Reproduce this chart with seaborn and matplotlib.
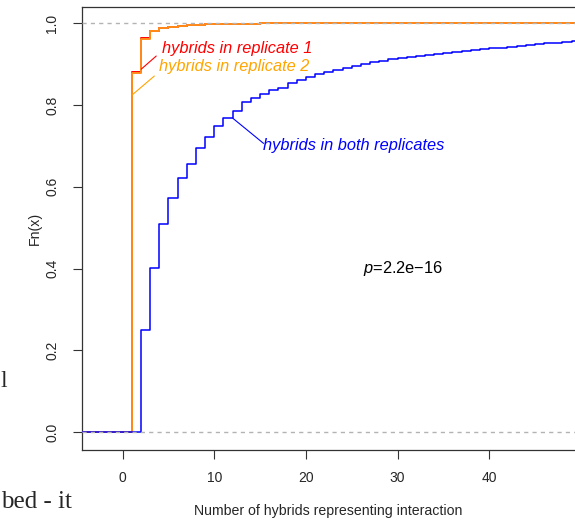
"""ECDF of hybrid counts per interaction, replicates vs both."""

import numpy as np
import pandas as pd
import matplotlib
matplotlib.use("Agg")
import matplotlib.pyplot as plt
import seaborn as sns

# ECDF step positions and heights
rep_x = [1, 2, 3, 4, 5, 6, 7, 8, 9, 10, 12, 15]
rep1_f = [0.882, 0.963, 0.981, 0.988, 0.992, 0.994, 0.996, 0.997, 0.998, 0.999, 0.9995, 1.0]
rep2_f = [0.878, 0.962, 0.980, 0.988, 0.992, 0.994, 0.996, 0.997, 0.998, 0.999, 0.9995, 1.0]

both_x = list(range(2, 50))
both_f = [0.250, 0.401, 0.509, 0.574, 0.622, 0.655, 0.694, 0.723, 0.749, 0.769,
          0.786, 0.808, 0.818, 0.827, 0.837, 0.843, 0.853, 0.861, 0.869, 0.875,
          0.880, 0.886, 0.890, 0.895, 0.900, 0.905, 0.908, 0.912, 0.915, 0.917,
          0.919, 0.922, 0.924, 0.927, 0.929, 0.932, 0.935, 0.937, 0.939, 0.940,
          0.941, 0.944, 0.946, 0.949, 0.951, 0.953, 0.954, 0.957]

x_ticks = [0, 10, 20, 30, 40]
y_ticks = [0.0, 0.2, 0.4, 0.6, 0.8, 1.0]

RED = "#FF0000"
ORANGE_LINE = "#FF8C1A"
ORANGE_TEXT = "#FFA500"
BLUE = "#0000FF"

sns.set_style("ticks")
plt.rcParams["font.family"] = ["Liberation Sans", "DejaVu Sans"]
plt.rcParams["mathtext.fontset"] = "custom"
plt.rcParams["mathtext.it"] = "Liberation Sans:italic"
plt.rcParams["mathtext.rm"] = "Liberation Sans"

XMIN, XMAX = -4.43, 49.37


def step_frame(xs, fs):
    # extend the ECDF to both edges of the plotting region, like R's plot.ecdf
    x = [XMIN - 5] + list(xs) + [XMAX + 5]
    f = [0.0] + list(fs) + [fs[-1]]
    return pd.DataFrame({"x": x, "F": f})


def leader(ax, p0, p1, color):
    ax.plot([p0[0], p1[0]], [p0[1], p1[1]], color=color, lw=0.8, zorder=6)


fig = plt.figure(figsize=(5.75, 5.21), dpi=100)
ax = fig.add_axes([82 / 575, 1 - 449.5 / 521, 1 - 82 / 575, (449.5 - 7) / 521])

sns.lineplot(data=step_frame(rep_x, rep1_f), x="x", y="F", drawstyle="steps-post",
             color=RED, lw=1.4, ax=ax, zorder=2)
sns.lineplot(data=step_frame(rep_x, rep2_f), x="x", y="F", drawstyle="steps-post",
             color=ORANGE_LINE, lw=1.4, ax=ax, zorder=3)
sns.lineplot(data=step_frame(both_x, both_f), x="x", y="F", drawstyle="steps-post",
             color=BLUE, lw=1.1, ax=ax, zorder=4)

for h in (0, 1):
    ax.axhline(h, color="#B3B3B3", lw=1.0, ls=(0, (3, 3)), zorder=5)

ax.set_xlim(XMIN, XMAX)
ax.set_ylim(-0.0423, 1.0399)
ax.set_xticks(x_ticks)
ax.set_yticks(y_ticks)
ax.set_yticklabels([f"{v:.1f}" for v in y_ticks], rotation=90, va="center")
ax.tick_params(axis="both", length=6.5, width=0.8, labelsize=10, color="#333333")
ax.tick_params(axis="x", pad=9)
ax.tick_params(axis="y", pad=10)
ax.spines["right"].set_visible(False)
for s in ("left", "bottom", "top"):
    ax.spines[s].set_linewidth(0.9)
    ax.spines[s].set_color("#333333")

ax.set_xlabel("Number of hybrids representing interaction", fontsize=10.2, labelpad=14)
ax.set_ylabel("Fn(x)", fontsize=10.2, labelpad=2)

# labels with leader lines
ax.text(4.33, 0.9396, "hybrids in replicate 1", color=RED, style="italic",
        fontsize=11.8, va="center", ha="left")
leader(ax, (2.04, 0.888), (3.67, 0.920), RED)
ax.text(4.0, 0.8955, "hybrids in replicate 2", color=ORANGE_TEXT, style="italic",
        fontsize=11.8, va="center", ha="left")
leader(ax, (1.03, 0.8246), (3.46, 0.871), ORANGE_TEXT)
ax.text(15.35, 0.702, "hybrids in both replicates", color=BLUE, style="italic",
        fontsize=11.8, va="center", ha="left")
leader(ax, (12.04, 0.7676), (15.38, 0.7064), BLUE)
ax.text(26.2, 0.4, r"$p$=2.2e−16", fontsize=11.8, va="center", ha="left", color="black")

# fragments of the surrounding page text that show up in the crop
fig.text(0.0, 1 - 387 / 521, "l", family="Liberation Serif", fontsize=17, va="baseline")
fig.text(0.002, 1 - 508 / 521, "bed - it", family="Liberation Serif", fontsize=18,
         va="baseline")

fig.savefig("out.png", dpi=100)
